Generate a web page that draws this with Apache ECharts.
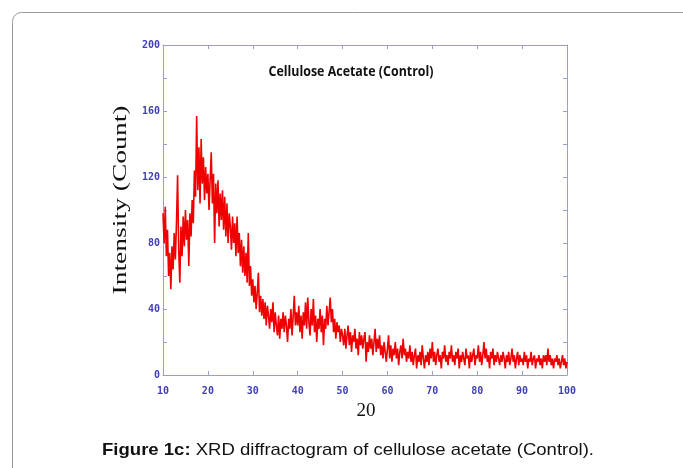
<!DOCTYPE html>
<html>
<head>
<meta charset="utf-8">
<script src="https://cdn.jsdelivr.net/npm/echarts@6/dist/echarts.min.js"></script>
<style>html,body{margin:0;padding:0;background:#fff;}#c{width:683px;height:468px;}</style>
</head>
<body>
<div id="c"></div>
<script>
// 2θ sampling grid (degrees)
const startAngle = 10;
const stepAngle = 0.25;
// Intensity (Count), one array per 5° segment
const seg10 = [98,80,102,72,88,60,74,52,78,64,86,70,92,121,76,56,90,72,96,78];
const seg15 = [100,82,94,66,98,84,106,92,124,108,157,112,138,104,143,116,132,106,126,110];
const seg20 = [122,100,118,135,104,122,80,116,98,118,90,110,94,112,88,108,84,104,80,98];
const seg25 = [90,76,96,80,92,72,96,74,86,66,82,62,78,60,74,56,86,54,66,48];
const seg30 = [58,44,54,40,50,62,38,48,36,46,34,44,30,42,36,28,40,32,44,26];
const seg35 = [38,30,24,36,22,34,28,38,26,36,30,20,34,28,40,24,36,48,30,38];
const seg40 = [30,42,26,36,22,38,30,44,28,47,32,24,40,30,46,26,36,20,34,28];
const seg45 = [40,26,36,18,34,28,42,30,38,47,32,40,26,34,22,32,26,30,20,28];
const seg50 = [24,18,28,16,24,30,18,26,14,24,20,28,16,22,12,26,18,24,16,22];
const seg55 = [26,8,20,14,24,16,22,12,20,28,14,22,16,24,12,18,10,20,14,8];
const seg60 = [16,24,10,18,8,16,12,20,10,16,6,14,18,10,22,12,16,8,14,10];
const seg65 = [18,8,14,6,12,16,4,12,8,14,6,18,10,4,12,8,14,6,16,10];
const seg70 = [20,8,14,6,12,16,8,12,4,14,10,18,8,12,6,14,10,18,8,12];
const seg75 = [6,14,10,16,4,12,8,14,10,6,16,10,12,4,14,8,12,16,6,12];
const seg80 = [10,18,8,14,6,12,20,10,16,8,12,4,14,10,16,6,12,8,14,10];
const seg85 = [6,12,8,14,10,4,12,8,14,6,10,16,8,12,4,10,14,6,12,8];
const seg90 = [10,6,14,8,12,4,10,8,14,6,10,12,4,10,8,12,6,10,4,12];
const seg95 = [8,12,6,16,8,12,6,10,4,10,8,12,6,10,4,8,12,6,10,4,8];
const xTicks = [10,20,30,40,50,60,70,80,90,100];
const yTickLabels = [0,40,80,120,160,200];

const intensity = [].concat(seg10,seg15,seg20,seg25,seg30,seg35,seg40,seg45,seg50,seg55,seg60,seg65,seg70,seg75,seg80,seg85,seg90,seg95);
const seriesData = intensity.map((v,i)=>[startAngle + i*stepAngle, v]);

const axisCol = '#9c9ccc';
const labCol = '#4040b4';
const labFont = {color: labCol, fontFamily: 'DejaVu Sans Mono', fontWeight: 'bold', fontSize: 10};

const chart = echarts.init(document.getElementById('c'), null, {renderer:'canvas'});
chart.setOption({
  animation: false,
  backgroundColor: '#fff',
  grid: {left:163, right:116, top:45, bottom:93, containLabel:false},
  xAxis: [{
    type:'value', min:10, max:100, interval:10, position:'bottom',
    axisLine:{show:true, onZero:false, lineStyle:{color:axisCol, width:1}},
    axisTick:{show:true, inside:true, length:4, lineStyle:{color:axisCol}},
    splitLine:{show:false},
    axisLabel:Object.assign({margin:11, formatter:(v)=> xTicks.indexOf(v)>=0 ? String(v) : ''}, labFont)
  },{
    type:'value', min:10, max:100, interval:10, position:'top',
    axisLine:{show:true, onZero:false, lineStyle:{color:axisCol, width:1}},
    axisTick:{show:true, inside:true, length:4, lineStyle:{color:axisCol}},
    splitLine:{show:false}, axisLabel:{show:false}
  }],
  yAxis: [{
    type:'value', min:0, max:200, interval:20, position:'left',
    axisLine:{show:true, onZero:false, lineStyle:{color:axisCol, width:1}},
    axisTick:{show:true, inside:true, length:4, lineStyle:{color:axisCol}},
    splitLine:{show:false},
    axisLabel:Object.assign({margin:3, formatter:(v)=> yTickLabels.indexOf(v)>=0 ? String(v) : ''}, labFont)
  },{
    type:'value', min:0, max:200, interval:20, position:'right',
    axisLine:{show:true, onZero:false, lineStyle:{color:axisCol, width:1}},
    axisTick:{show:true, inside:true, length:4, lineStyle:{color:axisCol}},
    splitLine:{show:false}, axisLabel:{show:false}
  }],
  series: [{
    type:'line', xAxisIndex:0, yAxisIndex:0, data: seriesData,
    showSymbol:false, symbol:'none', sampling:null,
    lineStyle:{color:'#f00000', width:1.6},
    z:3
  }],
  graphic: [
    {type:'rect', left:10, top:10, shape:{width:700, height:500, r:9},
     style:{fill:'none', stroke:'#9a9a9a', lineWidth:1}, z:-1, silent:true},
    {type:'text', x:351, y:72, scaleX:0.92, style:{text:'Cellulose Acetate (Control)', font:'bold 13.5px "Open Sans"', fill:'#111', align:'center', verticalAlign:'middle'}},
    {type:'text', x:121, y:200, rotation:Math.PI/2, scaleX:1.45,
     style:{text:'Intensity (Count)', font:'19px "Liberation Serif"', fill:'#111', align:'center', verticalAlign:'middle'}},
    {type:'text', x:366, y:411, style:{text:'20', font:'19px "Liberation Serif"', fill:'#111', align:'center', verticalAlign:'middle'}},
    {type:'text', x:348, y:450, scaleX:1.09, style:{
      text:'{b|Figure 1c:} XRD diffractogram of cellulose acetate (Control).',
      rich:{b:{fontWeight:'bold', fontSize:17, fontFamily:'Liberation Sans', fill:'#111'}},
      font:'17px "Liberation Sans"', fill:'#111', align:'center', verticalAlign:'middle'}}
  ]
});
</script>
</body>
</html>
